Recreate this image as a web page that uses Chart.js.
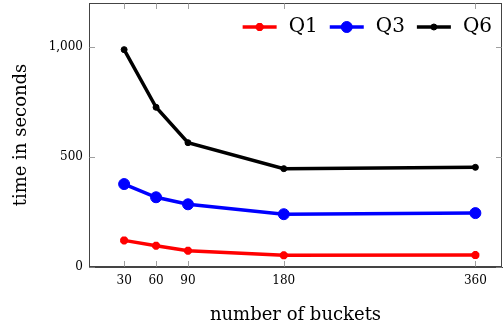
<!DOCTYPE html>
<html>
<head>
<meta charset="utf-8">
<script src="https://cdn.jsdelivr.net/npm/chart.js@4/dist/chart.umd.min.js"></script>
<style>
  html, body { margin: 0; padding: 0; background: #fff; }
  #wrap { width: 504px; height: 332px; }
</style>
</head>
<body>
<div id="wrap"><canvas id="c"></canvas></div>
<script>
// bucket counts on the x axis
const buckets = [30, 60, 90, 180, 360];
// runtime per query, seconds
const q1 = [121, 97, 74, 53, 54];
const q3 = [377, 317, 285, 240, 245];
const q6 = [988, 726, 565, 447, 453];
const yTicks = [0, 500, 1000];

const serif = "'DejaVu Serif', serif";

const toPoints = (ys) => buckets.map((x, i) => ({ x: x, y: ys[i] }));

// inner tick marks, closed frame and in-plot legend
const frame = {
  id: 'frame',
  afterDraw(chart) {
    const { ctx, chartArea: a, scales } = chart;
    ctx.save();
    ctx.strokeStyle = '#444';
    ctx.lineWidth = 1;
    ctx.strokeRect(a.left + 0.5, a.top + 0.5, a.right - a.left - 1, a.bottom - a.top - 1);
    ctx.strokeStyle = '#888';
    ctx.lineWidth = 0.8;
    const tl = 6;
    ctx.beginPath();
    buckets.forEach(v => {
      const x = Math.round(scales.x.getPixelForValue(v)) + 0.5;
      ctx.moveTo(x, a.bottom); ctx.lineTo(x, a.bottom - tl);
      ctx.moveTo(x, a.top); ctx.lineTo(x, a.top + tl);
    });
    yTicks.forEach(v => {
      const y = Math.round(scales.y.getPixelForValue(v)) + 0.5;
      ctx.moveTo(a.left, y); ctx.lineTo(a.left + tl, y);
      ctx.moveTo(a.right, y); ctx.lineTo(a.right - tl, y);
    });
    ctx.stroke();

    // legend: line sample with marker, then label
    ctx.font = '20px ' + serif;
    ctx.textBaseline = 'middle';
    let x = a.right - 10;
    const y = a.top + 24;
    const items = chart.data.datasets.slice().reverse();
    items.forEach(ds => {
      const w = ctx.measureText(ds.label).width;
      x -= w;
      ctx.fillStyle = '#000';
      ctx.fillText(ds.label, x, y);
      x -= 12;
      ctx.strokeStyle = ds.borderColor;
      ctx.lineWidth = ds.borderWidth;
      ctx.beginPath();
      ctx.moveTo(x - 34, y); ctx.lineTo(x, y);
      ctx.stroke();
      ctx.fillStyle = ds.borderColor;
      ctx.lineWidth = ds.pointBorderWidth || 1;
      Chart.helpers.drawPoint(ctx, {
        pointStyle: ds.pointStyle, radius: ds.pointRadius,
        borderWidth: ds.pointBorderWidth || 1, rotation: 0
      }, x - 17, y);
      x -= 34 + 12;
    });
    ctx.restore();
  }
};

new Chart(document.getElementById('c'), {
  type: 'line',
  data: {
    datasets: [
      { label: 'Q1', data: toPoints(q1), borderColor: '#ff0000', backgroundColor: '#ff0000',
        borderWidth: 3.5, pointStyle: 'star', pointRadius: 4, pointBorderWidth: 3 },
      { label: 'Q3', data: toPoints(q3), borderColor: '#0000ff', backgroundColor: '#0000ff',
        borderWidth: 3.5, pointStyle: 'circle', pointRadius: 5.5, pointBorderWidth: 1 },
      { label: 'Q6', data: toPoints(q6), borderColor: '#000000', backgroundColor: '#000000',
        borderWidth: 3.5, pointStyle: 'circle', pointRadius: 3, pointBorderWidth: 1 }
    ]
  },
  options: {
    responsive: true,
    maintainAspectRatio: false,
    animation: false,
    layout: { autoPadding: false, padding: { top: 3, right: 2, left: 0, bottom: 0 } },
    plugins: { legend: { display: false }, tooltip: { enabled: false } },
    elements: { line: { tension: 0 } },
    scales: {
      x: {
        type: 'linear', min: -3, max: 385,
        afterBuildTicks: (s) => { s.ticks = buckets.map(v => ({ value: v })); },
        afterFit: (s) => { s.height = 65; s.paddingLeft = 0; s.paddingRight = 0; },
        grid: { display: false, drawTicks: false },
        border: { display: true, color: '#444' },
        ticks: { padding: 7, color: '#000', font: { family: serif, size: 12 }, maxRotation: 0 },
        title: { display: true, text: 'number of buckets', color: '#000',
                 font: { family: serif, size: 18 }, padding: { top: 0, bottom: 6 } }
      },
      y: {
        min: 0, max: 1200,
        afterBuildTicks: (s) => { s.ticks = yTicks.map(v => ({ value: v })); },
        afterFit: (s) => { s.width = 89; s.paddingTop = 0; s.paddingBottom = 0; },
        grid: { display: false, drawTicks: false },
        border: { display: true, color: '#444' },
        ticks: { padding: 6, color: '#000', font: { family: serif, size: 12 } },
        title: { display: true, text: 'time in seconds', color: '#000',
                 font: { family: serif, size: 18 }, padding: { top: 11, bottom: 0 } }
      }
    }
  },
  plugins: [frame]
});
</script>
</body>
</html>
